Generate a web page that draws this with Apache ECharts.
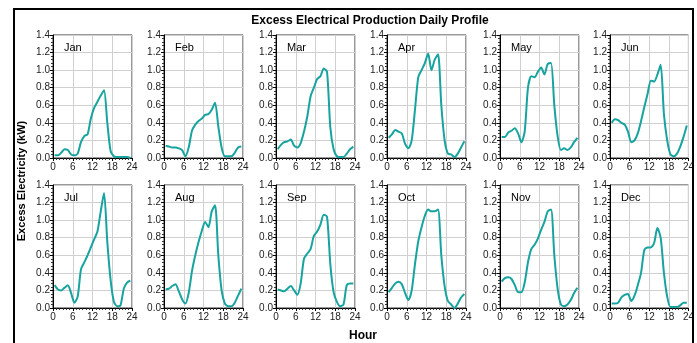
<!DOCTYPE html>
<html>
<head>
<meta charset="utf-8">
<script src="https://cdn.jsdelivr.net/npm/echarts@6/dist/echarts.min.js"></script>
<style>
html, body { margin: 0; padding: 0; background: #fff; }
#main { width: 697px; height: 343px; }
</style>
</head>
<body>
<div id="main"></div>
<script>
// hour of day (middle of each hour)
var hours = [0.5, 1.5, 2.5, 3.5, 4.5, 5.5, 6.5, 7.5, 8.5, 9.5, 10.5, 11.5,
	12.5, 13.5, 14.5, 15.5, 16.5, 17.5, 18.5, 19.5, 20.5, 21.5, 22.5, 23.5];
var months = ['Jan', 'Feb', 'Mar', 'Apr', 'May', 'Jun', 'Jul', 'Aug', 'Sep', 'Oct', 'Nov', 'Dec'];
var xTicks = [0, 6, 12, 18, 24];
var yTicks = [0.0, 0.2, 0.4, 0.6, 0.8, 1.0, 1.2, 1.4];

var jan = [0.03, 0.03, 0.06, 0.10, 0.09, 0.04, 0.03, 0.05, 0.18, 0.25, 0.27, 0.45, 0.57, 0.64, 0.71, 0.77, 0.40, 0.08, 0.02, 0.01, 0.01, 0.01, 0.01, 0.00];
var feb = [0.14, 0.13, 0.12, 0.12, 0.11, 0.09, 0.02, 0.12, 0.31, 0.38, 0.42, 0.45, 0.49, 0.50, 0.55, 0.63, 0.36, 0.12, 0.02, 0.02, 0.02, 0.06, 0.12, 0.13];
var mar = [0.10, 0.15, 0.18, 0.19, 0.21, 0.14, 0.12, 0.17, 0.30, 0.47, 0.70, 0.80, 0.90, 0.93, 1.02, 0.98, 0.35, 0.10, 0.02, 0.01, 0.01, 0.05, 0.10, 0.13];
var apr = [0.23, 0.27, 0.32, 0.30, 0.28, 0.16, 0.11, 0.20, 0.55, 0.92, 1.00, 1.08, 1.19, 1.00, 1.12, 1.18, 0.60, 0.20, 0.05, 0.04, 0.01, 0.05, 0.12, 0.19];
var may = [0.24, 0.24, 0.29, 0.31, 0.34, 0.28, 0.18, 0.30, 0.80, 0.93, 0.92, 0.98, 1.03, 0.95, 1.07, 1.08, 0.60, 0.25, 0.09, 0.11, 0.09, 0.12, 0.18, 0.23];
var jun = [0.40, 0.44, 0.43, 0.40, 0.38, 0.30, 0.18, 0.20, 0.28, 0.42, 0.58, 0.73, 0.88, 0.87, 0.95, 1.06, 0.50, 0.20, 0.04, 0.02, 0.05, 0.13, 0.24, 0.37];
var jul = [0.26, 0.21, 0.20, 0.23, 0.26, 0.17, 0.06, 0.13, 0.44, 0.52, 0.60, 0.69, 0.78, 0.87, 1.10, 1.31, 0.75, 0.32, 0.07, 0.02, 0.03, 0.22, 0.29, 0.31];
var aug = [0.21, 0.22, 0.25, 0.27, 0.19, 0.10, 0.05, 0.17, 0.42, 0.60, 0.75, 0.88, 0.98, 0.92, 1.10, 1.17, 0.60, 0.20, 0.05, 0.02, 0.02, 0.06, 0.14, 0.22];
var sep = [0.21, 0.20, 0.19, 0.22, 0.25, 0.20, 0.15, 0.28, 0.56, 0.62, 0.67, 0.82, 0.87, 0.95, 1.06, 1.04, 0.50, 0.18, 0.07, 0.02, 0.04, 0.26, 0.28, 0.28];
var oct = [0.18, 0.23, 0.28, 0.30, 0.27, 0.17, 0.09, 0.20, 0.50, 0.76, 0.92, 1.05, 1.12, 1.10, 1.10, 1.12, 0.60, 0.25, 0.08, 0.04, 0.00, 0.05, 0.12, 0.16];
var nov = [0.30, 0.34, 0.35, 0.33, 0.26, 0.18, 0.18, 0.29, 0.52, 0.67, 0.72, 0.79, 0.89, 0.98, 1.10, 1.12, 0.60, 0.22, 0.04, 0.02, 0.04, 0.09, 0.17, 0.23];
var dec = [0.05, 0.05, 0.06, 0.12, 0.15, 0.16, 0.08, 0.14, 0.26, 0.40, 0.66, 0.69, 0.69, 0.74, 0.91, 0.80, 0.40, 0.13, 0.01, 0.01, 0.01, 0.03, 0.06, 0.06];
var profiles = [jan, feb, mar, apr, may, jun, jul, aug, sep, oct, nov, dec];

var colLeft = [53, 164, 276, 387, 500, 610];
var rowTop = [35, 185];
var plotW = 79, plotH = 123;
var lineColor = '#17a39f';

var chart = echarts.init(document.getElementById('main'));
var grids = [], xAxes = [], yAxes = [], series = [];
var titles = [{
	text: 'Excess Electrical Production Daily Profile',
	left: 365, top: 10, textAlign: 'center',
	textStyle: { fontFamily: 'Arial', fontSize: 12, fontWeight: 'bold', color: '#000' }
}];

for (var k = 0; k < 12; k++) {
	var r = Math.floor(k / 6), c = k % 6;
	grids.push({
		left: colLeft[c], top: rowTop[r], width: plotW, height: plotH,
		show: true, borderColor: '#333', borderWidth: 1, backgroundColor: '#fff'
	});
	xAxes.push({
		type: 'value', gridIndex: k, min: 0, max: 24, interval: 6,
		axisLine: { show: true, onZero: false, lineStyle: { color: '#000' } },
		axisTick: { show: true, length: 3, lineStyle: { color: '#000' } },
		minorTick: { show: true, splitNumber: 6, length: 2, lineStyle: { color: '#333' } },
		splitLine: { show: true, lineStyle: { color: '#d0d0d0' } },
		axisLabel: {
			margin: 4, fontFamily: 'Arial', fontSize: 10, color: '#222',
			customValues: xTicks,
			formatter: function (v) { return String(v); }
		}
	});
	yAxes.push({
		type: 'value', gridIndex: k, min: 0, max: 1.4, interval: 0.2,
		axisLine: { show: true, lineStyle: { color: '#000' } },
		axisTick: { show: true, length: 3, lineStyle: { color: '#000' } },
		minorTick: { show: true, splitNumber: 5, length: 2, lineStyle: { color: '#333' } },
		splitLine: { show: true, lineStyle: { color: '#d0d0d0' } },
		axisLabel: {
			margin: 3, fontFamily: 'Arial', fontSize: 10, color: '#222',
			formatter: function (v) { return v.toFixed(1); }
		}
	});
	var vals = profiles[k];
	series.push({
		type: 'line', xAxisIndex: k, yAxisIndex: k,
		data: vals.map(function (v, i) { return [hours[i], v]; }),
		showSymbol: false, smooth: 0.25,
		lineStyle: { color: lineColor, width: 2 },
		itemStyle: { color: lineColor },
		silent: true, animation: false
	});
	titles.push({
		text: months[k], left: colLeft[c] + 6, top: rowTop[r] + 2,
		textStyle: { fontFamily: 'Arial', fontSize: 11, fontWeight: 'normal', color: '#000' }
	});
}

chart.setOption({
	backgroundColor: '#fff',
	animation: false,
	title: titles,
	grid: grids,
	xAxis: xAxes,
	yAxis: yAxes,
	series: series,
	graphic: [
		{ type: 'rect', shape: { x: 14, y: 9, width: 679, height: 345 },
			style: { fill: 'none', stroke: '#000', lineWidth: 2 }, z: 100 },
		{ type: 'text', x: 22, y: 181, rotation: Math.PI / 2,
			style: { text: 'Excess Electricity (kW)', font: 'bold 11px Arial', fill: '#000',
				textAlign: 'center', textVerticalAlign: 'middle' } },
		{ type: 'text', x: 363, y: 336,
			style: { text: 'Hour', font: 'bold 12px Arial', fill: '#000',
				textAlign: 'center', textVerticalAlign: 'middle' } }
	]
});
</script>
</body>
</html>
